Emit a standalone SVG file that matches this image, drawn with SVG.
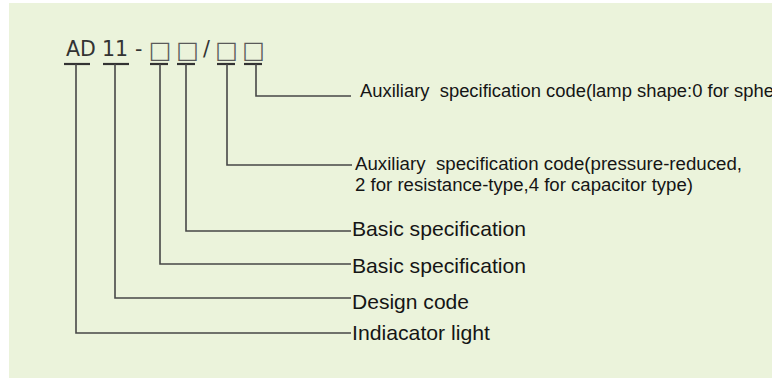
<svg xmlns="http://www.w3.org/2000/svg" width="772" height="378" viewBox="0 0 772 378">
<style>
.hdr{font-family:"DejaVu Sans",Verdana,sans-serif;font-size:20.5px;fill:#333}
.box{font-family:"DejaVu Sans",sans-serif;font-size:24px;fill:#5a5a5a;text-anchor:middle}
.lbl{font-family:"Liberation Sans",Arial,sans-serif;fill:#151515;white-space:pre}
.big{font-size:21px}
.sm{font-size:17.5px}
.ul{stroke:#333;stroke-width:2.2;fill:none}
.ln{stroke:#474747;stroke-width:1.6;fill:none}
</style>
<rect x="9" y="3" width="763" height="375" fill="#EBF3DB"/>
<g id="code">
<text class="hdr" x="66" y="56">AD</text>
<text class="hdr" x="102" y="56">11</text>
<text class="hdr" x="135" y="56">-</text>
<text class="box" x="160" y="58">□</text>
<text class="box" x="187.5" y="58">□</text>
<text class="hdr" x="203" y="56">/</text>
<text class="box" x="226.5" y="58">□</text>
<text class="box" x="253.5" y="58">□</text>
</g>
<g id="underlines">
<line class="ul" x1="64" y1="64" x2="90" y2="64"/>
<line class="ul" x1="103" y1="64" x2="129" y2="64"/>
<line class="ul" x1="150" y1="64" x2="168" y2="64"/>
<line class="ul" x1="177" y1="64" x2="195" y2="64"/>
<line class="ul" x1="217" y1="64" x2="235" y2="64"/>
<line class="ul" x1="244" y1="64" x2="262" y2="64"/>
</g>
<g id="connectors">
<path class="ln" d="M256 64V96H351"/>
<path class="ln" d="M227 64V165H352"/>
<path class="ln" d="M186 64V231H351"/>
<path class="ln" d="M160 64V264H351"/>
<path class="ln" d="M115 64V298H351"/>
<path class="ln" d="M76 64V333H351"/>
</g>
<g id="aux2">
<text class="lbl sm" xml:space="preserve" x="360" y="97" textLength="414" lengthAdjust="spacingAndGlyphs">Auxiliary  specification code(lamp shape:0 for sphe</text>
</g>
<g id="aux1">
<text class="lbl sm" xml:space="preserve" x="355" y="170" textLength="387" lengthAdjust="spacingAndGlyphs">Auxiliary  specification code(pressure-reduced,</text>
<text class="lbl sm" x="355" y="191" textLength="338" lengthAdjust="spacingAndGlyphs">2 for resistance-type,4 for capacitor type)</text>
</g>
<g id="basic2">
<text class="lbl big" x="352" y="236" textLength="174" lengthAdjust="spacingAndGlyphs">Basic specification</text>
</g>
<g id="basic1">
<text class="lbl big" x="352" y="273" textLength="174" lengthAdjust="spacingAndGlyphs">Basic specification</text>
</g>
<g id="design">
<text class="lbl big" x="352" y="309" textLength="117" lengthAdjust="spacingAndGlyphs">Design code</text>
</g>
<g id="indicator">
<text class="lbl big" x="352" y="340" textLength="138" lengthAdjust="spacingAndGlyphs">Indiacator light</text>
</g>
</svg>
